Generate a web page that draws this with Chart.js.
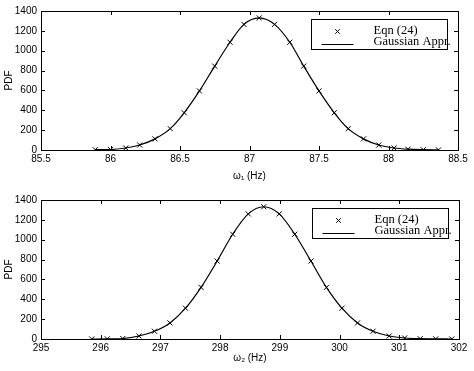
<!DOCTYPE html>
<html>
<head>
<meta charset="utf-8">
<script src="https://cdn.jsdelivr.net/npm/chart.js@4"></script>
<style>
html, body { margin: 0; padding: 0; background: #fff; }
#wrap { position: relative; width: 474px; height: 371px; }
canvas { position: absolute; left: 0; }
</style>
</head>
<body>
<div id="wrap">
<canvas id="c1" width="474" height="185" style="top:0"></canvas>
<canvas id="c2" width="474" height="186" style="top:185px"></canvas>
</div>
<script>
// datos
const seriesLabels = ["Eqn (24)", "Gaussian Appr."];

const w1 = [85.89, 86.00, 86.11, 86.21, 86.32, 86.43, 86.53, 86.64, 86.75, 86.86, 86.96, 87.07,
            87.18, 87.29, 87.39, 87.50, 87.61, 87.71, 87.82, 87.93, 88.04, 88.14, 88.25, 88.36];
const pdf1 = [3, 5, 20, 50, 112, 215, 375, 595, 845, 1085, 1265, 1330,
              1265, 1085, 845, 595, 375, 215, 112, 50, 20, 8, 3, 1];

const w2 = [295.85, 296.11, 296.37, 296.64, 296.90, 297.16, 297.42, 297.68, 297.95, 298.21, 298.47, 298.73,
            298.99, 299.25, 299.52, 299.78, 300.04, 300.30, 300.56, 300.83, 301.09, 301.35, 301.61, 301.88];
const pdf2 = [0, 1, 5, 30, 78, 162, 310, 520, 785, 1055, 1260, 1332,
              1260, 1055, 785, 520, 310, 162, 78, 30, 10, 3, 1, 0];

const xTicks1 = [85.5, 86, 86.5, 87, 87.5, 88, 88.5];
const xTicks2 = [295, 296, 297, 298, 299, 300, 301, 302];
const yTicks = [0, 200, 400, 600, 800, 1000, 1200, 1400];

const fuenteEjes = "'Liberation Sans', Arial, Helvetica, sans-serif";
const fuenteLeyenda = "'Liberation Serif', 'Times New Roman', serif";

// caja, marcas hacia dentro y leyenda estilo matlab
const marcoMatlab = {
    id: 'marcoMatlab',
    afterDatasetsDraw(chart) {
        const ctx = chart.ctx;
        const a = chart.chartArea;
        const sx = chart.scales.x, sy = chart.scales.y;
        const largo = 4;
        ctx.save();
        ctx.strokeStyle = '#000';
        ctx.lineWidth = 1;
        ctx.strokeRect(a.left + 0.5, a.top + 0.5, a.right - a.left, a.bottom - a.top);
        ctx.beginPath();
        sx.ticks.forEach(t => {
            const px = Math.round(sx.getPixelForValue(t.value)) + 0.5;
            ctx.moveTo(px, a.bottom); ctx.lineTo(px, a.bottom - largo);
            ctx.moveTo(px, a.top); ctx.lineTo(px, a.top + largo);
        });
        sy.ticks.forEach(t => {
            const py = Math.round(sy.getPixelForValue(t.value)) + 0.5;
            ctx.moveTo(a.left, py); ctx.lineTo(a.left + largo, py);
            ctx.moveTo(a.right, py); ctx.lineTo(a.right - largo, py);
        });
        ctx.stroke();

        // leyenda
        const ancho = 136, alto = 30;
        const bx = Math.round(a.right - 11 - ancho) + 0.5;
        const by = Math.round(a.top + 8) + 0.5;
        ctx.fillStyle = '#fff';
        ctx.fillRect(bx, by, ancho, alto);
        ctx.strokeRect(bx, by, ancho, alto);
        // marcador
        const mx = bx + 26, my = by + 12, r = 2.3;
        ctx.beginPath();
        ctx.moveTo(mx - r, my - r); ctx.lineTo(mx + r, my + r);
        ctx.moveTo(mx - r, my + r); ctx.lineTo(mx + r, my - r);
        ctx.stroke();
        // linea
        ctx.beginPath();
        ctx.moveTo(bx + 10, by + 25); ctx.lineTo(bx + 42, by + 25);
        ctx.stroke();
        ctx.fillStyle = '#000';
        ctx.font = '12.5px ' + fuenteLeyenda;
        ctx.textBaseline = 'middle';
        ctx.textAlign = 'left';
        ctx.fillText(chart.data.datasets[0].label, bx + 62, by + 11);
        ctx.fillText(chart.data.datasets[1].label, bx + 62, by + 22.5);
        ctx.restore();
    }
};

function dibujarPanel(id, xs, ys, xTicks, xTitle, topPad, rightPad, xAlto, tituloPad) {
    const puntos = xs.map((x, i) => ({x: x, y: ys[i]}));
    return new Chart(document.getElementById(id), {
        type: 'scatter',
        data: {
            datasets: [{
                label: seriesLabels[0],
                data: puntos,
                showLine: false,
                pointStyle: 'crossRot',
                pointRadius: 3.6,
                borderColor: '#000',
                backgroundColor: '#000',
                borderWidth: 1
            }, {
                label: seriesLabels[1],
                data: puntos,
                showLine: true,
                pointRadius: 0,
                borderColor: '#000',
                borderWidth: 1.2,
                cubicInterpolationMode: 'monotone'
            }]
        },
        options: {
            responsive: false,
            animation: false,
            events: [],
            layout: {padding: {top: topPad, right: rightPad, left: 0, bottom: 0}},
            plugins: {legend: {display: false}, tooltip: {enabled: false}},
            scales: {
                x: {
                    type: 'linear',
                    min: xTicks[0],
                    max: xTicks[xTicks.length - 1],
                    afterBuildTicks: s => { s.ticks = xTicks.map(v => ({value: v})); },
                    afterFit: s => { s.height = xAlto; },
                    grid: {display: false, drawTicks: false},
                    border: {display: false},
                    ticks: {color: '#000', font: {family: fuenteEjes, size: 10}, padding: 3,
                            maxRotation: 0, autoSkip: false, callback: v => String(v)},
                    title: {display: true, text: xTitle, color: '#000',
                            font: {family: fuenteEjes, size: 10}, padding: {top: 2, bottom: tituloPad}}
                },
                y: {
                    type: 'linear',
                    min: yTicks[0],
                    max: yTicks[yTicks.length - 1],
                    afterBuildTicks: s => { s.ticks = yTicks.map(v => ({value: v})); },
                    afterFit: s => { s.width = 41; },
                    grid: {display: false, drawTicks: false},
                    border: {display: false},
                    ticks: {color: '#000', font: {family: fuenteEjes, size: 10}, padding: 4,
                            autoSkip: false, callback: v => String(v)},
                    title: {display: true, text: 'PDF', color: '#000',
                            font: {family: fuenteEjes, size: 10}, padding: {top: 3, bottom: 0}}
                }
            }
        },
        plugins: [marcoMatlab]
    });
}

dibujarPanel('c1', w1, pdf1, xTicks1, 'ω\u2081 (Hz)', 11, 16, 35, 3);
dibujarPanel('c2', w2, pdf2, xTicks2, 'ω\u2082 (Hz)', 15, 15, 32, 7);
</script>
</body>
</html>
